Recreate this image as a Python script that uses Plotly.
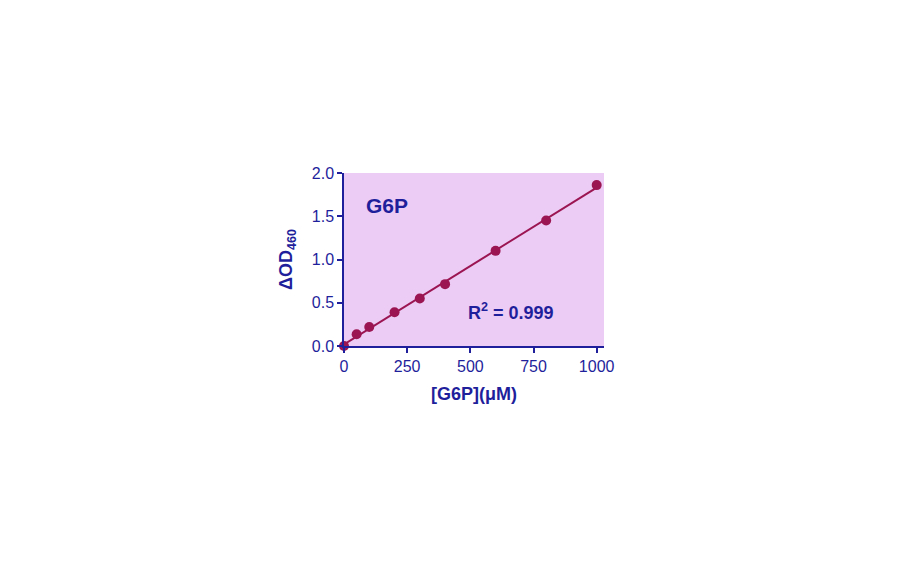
import numpy as np
import plotly.graph_objects as go

conc = [0, 50, 100, 200, 300, 400, 600, 800, 1000]
od = [0.0, 0.135, 0.22, 0.39, 0.55, 0.715, 1.10, 1.45, 1.86]
x_ticks = [0, 250, 500, 750, 1000]
y_ticks = [0.0, 0.5, 1.0, 1.5, 2.0]
y_tick_labels = ["0.0", "0.5", "1.0", "1.5", "2.0"]

slope, intercept = np.polyfit(conc, od, 1)
fit_x = [min(conc), max(conc)]
fit_y = [slope * v + intercept for v in fit_x]

navy = "#1f1f9c"
wine = "#9b1552"
font = "Arial, Liberation Sans, sans-serif"

fig = go.Figure()
fig.add_trace(go.Scatter(x=fit_x, y=fit_y, mode="lines",
                         line=dict(color=wine, width=2), cliponaxis=False,
                         hoverinfo="skip"))
fig.add_trace(go.Scatter(x=conc, y=od, mode="markers",
                         marker=dict(color=wine, size=10), cliponaxis=False))

fig.update_layout(
    width=912, height=562,
    margin=dict(l=336, r=316, t=165, b=224),
    paper_bgcolor="white", plot_bgcolor="#ecccf4",
    showlegend=False,
    font=dict(family=font, color=navy, size=16),
    xaxis=dict(range=[0, 1029], tickvals=x_ticks, ticks="outside", ticklen=5,
               tickwidth=1.5, tickcolor=navy, showline=True, linecolor=navy,
               linewidth=1.5, showgrid=False, zeroline=False,
               tickfont=dict(size=16, color=navy),
               title=dict(text="<b>[G6P](μM)</b>", font=dict(size=18, color=navy),
                          standoff=13)),
    yaxis=dict(range=[0, 2.0], tickvals=y_ticks, ticktext=y_tick_labels,
               ticks="outside", ticklen=5, tickwidth=1.5, tickcolor=navy,
               showline=True, linecolor=navy, linewidth=1.5, showgrid=False,
               zeroline=False, tickfont=dict(size=16, color=navy),
               title=dict(text="<b>ΔOD<sub>460</sub></b>", font=dict(size=18, color=navy),
                          standoff=14)),
    annotations=[
        dict(x=0.077, y=0.815, xref="paper", yref="paper", xanchor="left", yanchor="middle",
             text="<b>G6P</b>", showarrow=False, font=dict(size=21, color=navy)),
        dict(x=0.469, y=0.202, xref="paper", yref="paper", xanchor="left", yanchor="middle",
             text="<b>R<sup>2</sup> = 0.999</b>", showarrow=False,
             font=dict(size=18, color=navy)),
    ],
)

fig.write_html("out.html")
